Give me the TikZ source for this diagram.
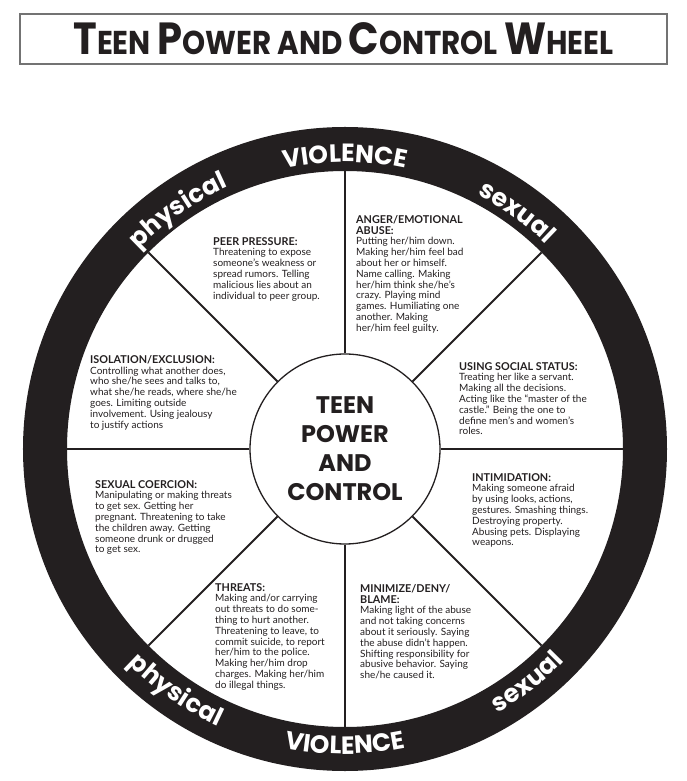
\documentclass[tikz,border=0pt]{standalone}
\usepackage{fontspec}
\setmainfont{Lato}
\newfontfamily\geofont{Poppins}
\usetikzlibrary{decorations.text}
\definecolor{ink}{HTML}{231F20}
\newcommand\tcap[1]{{\fontsize{45}{45}\selectfont#1}}
\newcommand\ringfont{\geofont\bfseries\fontsize{25}{25}\selectfont}
\newcommand\segtitle[1]{{\fontsize{10.8}{10.4}\selectfont\bfseries#1}}
\tikzset{
  seg/.style={anchor=north west,align=left,inner sep=0pt,text=ink,
              font=\fontsize{10}{10.8}\selectfont},
  spoke/.style={draw=ink,line width=2pt},
  ringtext/.style={decorate,decoration={text along path,text align=center,
              text color=white,text={|\ringfont|#1}}}
}
\begin{document}
\begin{tikzpicture}[x=1pt,y=1pt]
\useasboundingbox (-345,-332) rectangle (342,449);
\node[draw=black!55,line width=1.6pt,minimum width=647pt,minimum height=50pt,text=ink]
    (title) at (-1.5,410)
    {\scalebox{0.89}[1]{\geofont\bfseries\fontsize{33}{33}\selectfont
     \tcap{T}EEN \tcap{P}OWER AND \tcap{C}ONTROL \tcap{W}HEEL}};
\fill[ink,even odd rule] (0,0) circle (322) (0,0) circle (278);
\path[ringtext=VIOLENCE] (130:287) arc[start angle=130,end angle=50,radius=287];
\path[ringtext=physical] (165:287) arc[start angle=165,end angle=85,radius=287];
\path[ringtext=sexual] (94:287) arc[start angle=94,end angle=14,radius=287];
\path[ringtext=VIOLENCE] (230:305) arc[start angle=230,end angle=310,radius=305];
\path[ringtext=physical] (195:305) arc[start angle=195,end angle=275,radius=305];
\path[ringtext=sexual] (268:305) arc[start angle=268,end angle=348,radius=305];
\node[circle,draw=ink,line width=1.3pt,fill=white,minimum size=190pt,inner sep=0pt,
      align=center,text=ink,font=\geofont\bfseries\fontsize{24}{29}\selectfont]
    (hub) at (0,0) {TEEN\\POWER\\AND\\CONTROL};
\foreach \a in {0,45,...,315}
    \draw[spoke] (hub.\a) -- (\a:278);
\node[seg] (peer) at (-132,212) {\segtitle{PEER PRESSURE:}\\
    Threatening to expose\\someone’s weakness or\\spread rumors.  Telling\\
    malicious lies about an\\individual to peer group.};
\node[seg] (anger) at (11,234) {\segtitle{ANGER/EMOTIONAL}\\\segtitle{ABUSE:}\\
    Putting her/him down.\\Making her/him feel bad\\about her or himself.\\
    Name calling.  Making\\her/him think she/he’s\\crazy.  Playing mind\\
    games.  Humiliating one\\another.  Making\\her/him feel guilty.};
\node[seg] (status) at (114,87) {\segtitle{USING SOCIAL STATUS:}\\
    Treating her like a servant.\\Making all the decisions.\\
    Acting like the “master of the\\castle.”  Being the one to\\
    define men’s and women’s\\roles.};
\node[seg] (isolation) at (-255,94) {\segtitle{ISOLATION/EXCLUSION:}\\
    Controlling what another does,\\who she/he sees and talks to,\\
    what she/he reads, where she/he\\goes.  Limiting outside\\
    involvement.  Using jealousy\\to justify actions};
\node[seg] (coercion) at (-250,-31) {\segtitle{SEXUAL COERCION:}\\
    Manipulating or making threats\\to get sex.  Getting her\\
    pregnant.  Threatening to take\\the children away.  Getting\\
    someone drunk or drugged\\to get sex.};
\node[seg] (intimidation) at (127,-24) {\segtitle{INTIMIDATION:}\\
    Making someone afraid\\by using looks, actions,\\gestures.  Smashing things.\\
    Destroying property.\\Abusing pets.  Displaying\\weapons.};
\node[seg] (threats) at (-130,-134) {\segtitle{THREATS:}\\
    Making and/or carrying\\out threats to do some-\\thing to hurt another.\\
    Threatening to leave, to\\commit suicide, to report\\her/him to the police.\\
    Making her/him drop\\charges.  Making her/him\\do illegal things.};
\node[seg] (minimize) at (15,-135) {\segtitle{MINIMIZE/DENY/}\\\segtitle{BLAME:}\\
    Making light of the abuse\\and not taking concerns\\about it seriously.  Saying\\
    the abuse didn’t happen.\\Shifting responsibility for\\abusive behavior.  Saying\\
    she/he caused it.};
\end{tikzpicture}
\end{document}
